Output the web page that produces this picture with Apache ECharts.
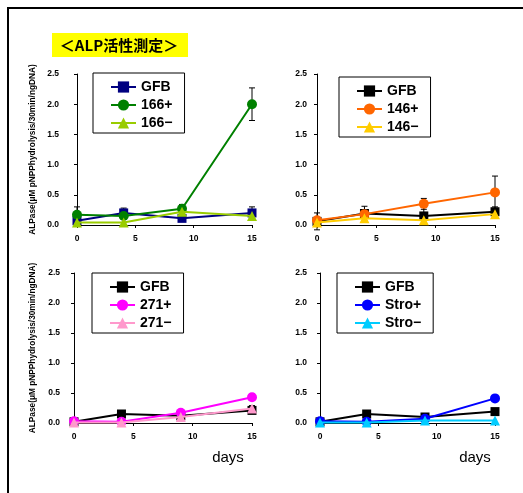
<!DOCTYPE html>
<html><head><meta charset="utf-8">
<script src="https://cdn.jsdelivr.net/npm/echarts@6/dist/echarts.min.js"></script>
<style>html,body{margin:0;padding:0;background:#fff}#c{width:523px;height:493px}</style>
</head><body><div id="c"></div>
<script>
const days = [0, 4, 9, 15];
const xTicks = [0, 5, 10, 15];
const yTicks = [0, 0.5, 1.0, 1.5, 2.0, 2.5];
const titleText = '＜ALP活性測定＞';
const yTitle = 'ALPase(μM pNPPhydrolysis/30min/ngDNA)';
const xTitle = 'days';

// Panel 1
const p1Names = ['GFB', '166+', '166−'];
const p1GFB = [0.07, 0.20, 0.11, 0.20];
const p1GFBErr = [0, 0.08, 0, 0.10];
const p1Plus = [0.17, 0.15, 0.27, 2.00];
const p1PlusErr = [0.13, 0, 0.07, 0.27];
const p1Minus = [0.04, 0.04, 0.22, 0.15];
const p1MinusErr = [0, 0, 0, 0];
// Panel 2
const p2Names = ['GFB', '146+', '146−'];
const p2GFB = [0.06, 0.19, 0.15, 0.22];
const p2GFBErr = [0.14, 0.12, 0.15, 0.08];
const p2Plus = [0.08, 0.18, 0.35, 0.54];
const p2PlusErr = [0, 0, 0.09, 0.27];
const p2Minus = [0.04, 0.11, 0.08, 0.18];
const p2MinusErr = [0, 0, 0, 0];
// Panel 3
const p3Names = ['GFB', '271+', '271−'];
const p3GFB = [0.02, 0.15, 0.12, 0.21];
const p3GFBErr = [0, 0, 0, 0];
const p3Plus = [0.03, 0.02, 0.17, 0.43];
const p3PlusErr = [0, 0, 0, 0.05];
const p3Minus = [0.01, 0.01, 0.10, 0.24];
const p3MinusErr = [0, 0, 0, 0.05];
// Panel 4
const p4Names = ['GFB', 'Stro+', 'Stro−'];
const p4GFB = [0.02, 0.15, 0.10, 0.19];
const p4GFBErr = [0, 0, 0, 0];
const p4Plus = [0.03, 0.02, 0.07, 0.41];
const p4PlusErr = [0, 0, 0, 0.05];
const p4Minus = [0.01, 0.01, 0.04, 0.04];
const p4MinusErr = [0, 0, 0, 0];

const panels = [
  {names: p1Names, vals: [p1GFB, p1Plus, p1Minus], errs: [p1GFBErr, p1PlusErr, p1MinusErr],
   colors: ['#000080', '#008000', '#99cc00'], grid: {left: 77, top: 74, width: 175, height: 151},
   ylm: 18, ng: 40, legend: {left: 93, top: 73}, ytitle: true},
  {names: p2Names, vals: [p2GFB, p2Plus, p2Minus], errs: [p2GFBErr, p2PlusErr, p2MinusErr],
   colors: ['#000000', '#ff6600', '#ffcc00'], grid: {left: 317, top: 74, width: 178, height: 151},
   ylm: 10, ng: 40, legend: {left: 339, top: 77}, ytitle: false},
  {names: p3Names, vals: [p3GFB, p3Plus, p3Minus], errs: [p3GFBErr, p3PlusErr, p3MinusErr],
   colors: ['#000000', '#ff00ff', '#ff99cc'], grid: {left: 74, top: 273, width: 178, height: 150},
   ylm: 14, ng: 37, legend: {left: 92, top: 273}, ytitle: true},
  {names: p4Names, vals: [p4GFB, p4Plus, p4Minus], errs: [p4GFBErr, p4PlusErr, p4MinusErr],
   colors: ['#000000', '#0000ff', '#00ccff'], grid: {left: 320, top: 273, width: 175, height: 150},
   ylm: 13, ng: 40, legend: {left: 337, top: 273}, ytitle: false}
];
const symbols = ['rect', 'circle', 'triangle'];
const symSizes = [9, 10, 10];
const FONT = '"Liberation Sans", Arial, sans-serif';

const grids = [], xAxes = [], yAxes = [], series = [], legends = [];
panels.forEach((p, i) => {
  const ids = p.names.map(n => n + '#' + i);
  grids.push(Object.assign({containLabel: false}, p.grid));
  xAxes.push({type: 'value', gridIndex: i, min: 0, max: 15, interval: 5,
    axisLine: {lineStyle: {color: '#000', width: 1}},
    axisTick: {show: true, length: 3, lineStyle: {color: '#000'}},
    splitLine: {show: false},
    axisLabel: {margin: 9, color: '#000', fontSize: 8.5, fontWeight: 'bold', fontFamily: FONT,
      formatter: v => xTicks.includes(v) ? String(v) : ''}});
  yAxes.push({type: 'value', gridIndex: i, min: 0, max: 2.5, interval: 0.5,
    axisLine: {show: true, lineStyle: {color: '#000', width: 1}},
    axisTick: {show: true, length: 3, lineStyle: {color: '#000'}},
    splitLine: {show: false},
    name: p.ytitle ? yTitle : '', nameLocation: 'middle', nameGap: p.ng, nameRotate: 90,
    nameTextStyle: {fontSize: 8.3, fontWeight: 'bold', color: '#000', fontFamily: FONT},
    axisLabel: {margin: p.ylm, color: '#000', fontSize: 8.5, fontWeight: 'bold', fontFamily: FONT,
      formatter: v => yTicks.some(t => Math.abs(t - v) < 1e-9) ? v.toFixed(1) : ''}});
  // error bars
  p.vals.forEach((vals, k) => {
    const ed = [];
    vals.forEach((v, j) => { if (p.errs[k][j] > 0) ed.push([days[j], v - p.errs[k][j], v + p.errs[k][j]]); });
    if (ed.length) series.push({type: 'custom', name: 'err' + i + k, xAxisIndex: i, yAxisIndex: i,
      encode: {x: 0, y: [1, 2]}, data: ed, z: 1, silent: true,
      renderItem: (params, api) => {
        const x = api.value(0), lo = api.value(1), hi = api.value(2);
        const a = api.coord([x, lo]), b = api.coord([x, hi]);
        const w = 3;
        const st = {stroke: '#000', lineWidth: 1};
        return {type: 'group', children: [
          {type: 'line', shape: {x1: a[0], y1: a[1], x2: b[0], y2: b[1]}, style: st},
          {type: 'line', shape: {x1: a[0] - w, y1: a[1], x2: a[0] + w, y2: a[1]}, style: st},
          {type: 'line', shape: {x1: b[0] - w, y1: b[1], x2: b[0] + w, y2: b[1]}, style: st}
        ]};
      }});
  });
  p.vals.forEach((vals, k) => {
    series.push({type: 'line', name: ids[k], xAxisIndex: i, yAxisIndex: i,
      data: vals.map((v, j) => [days[j], v]),
      symbol: symbols[k], symbolSize: symSizes[k], showSymbol: true,
      lineStyle: {color: p.colors[k], width: 2}, itemStyle: {color: p.colors[k]},
      z: 3 + k, animation: false});
  });
  legends.push({orient: 'vertical', left: p.legend.left, top: p.legend.top,
    data: ids, borderColor: '#000', borderWidth: 1, backgroundColor: '#fff',
    padding: [7, 12, 3, 17], itemGap: 4, itemWidth: 25, itemHeight: 14,
    selectedMode: false, formatter: n => n.split('#')[0],
    textStyle: {fontSize: 14, fontWeight: 'bold', color: '#000', fontFamily: FONT}});
});

const chart = echarts.init(document.getElementById('c'), null, {renderer: 'canvas'});
chart.setOption({
  animation: false,
  backgroundColor: '#fff',
  grid: grids, xAxis: xAxes, yAxis: yAxes, series: series, legend: legends,
  graphic: [
    {type: 'line', shape: {x1: 7, y1: 8, x2: 523, y2: 8}, style: {stroke: '#000', lineWidth: 2}},
    {type: 'line', shape: {x1: 8, y1: 7, x2: 8, y2: 493}, style: {stroke: '#000', lineWidth: 2}},
    {type: 'rect', shape: {x: 52, y: 33, width: 136, height: 24}, style: {fill: '#ffff00'}},
    {type: 'text', x: 119, y: 45, style: {text: titleText, fill: '#000', font: 'bold 15px "Noto Sans CJK JP", sans-serif', textAlign: 'center', textVerticalAlign: 'middle'}},
    {type: 'text', x: 228, y: 458, style: {text: xTitle, fill: '#000', font: '15px ' + FONT, textAlign: 'center', textVerticalAlign: 'middle'}},
    {type: 'text', x: 475, y: 458, style: {text: xTitle, fill: '#000', font: '15px ' + FONT, textAlign: 'center', textVerticalAlign: 'middle'}}
  ]
});
</script></body></html>
